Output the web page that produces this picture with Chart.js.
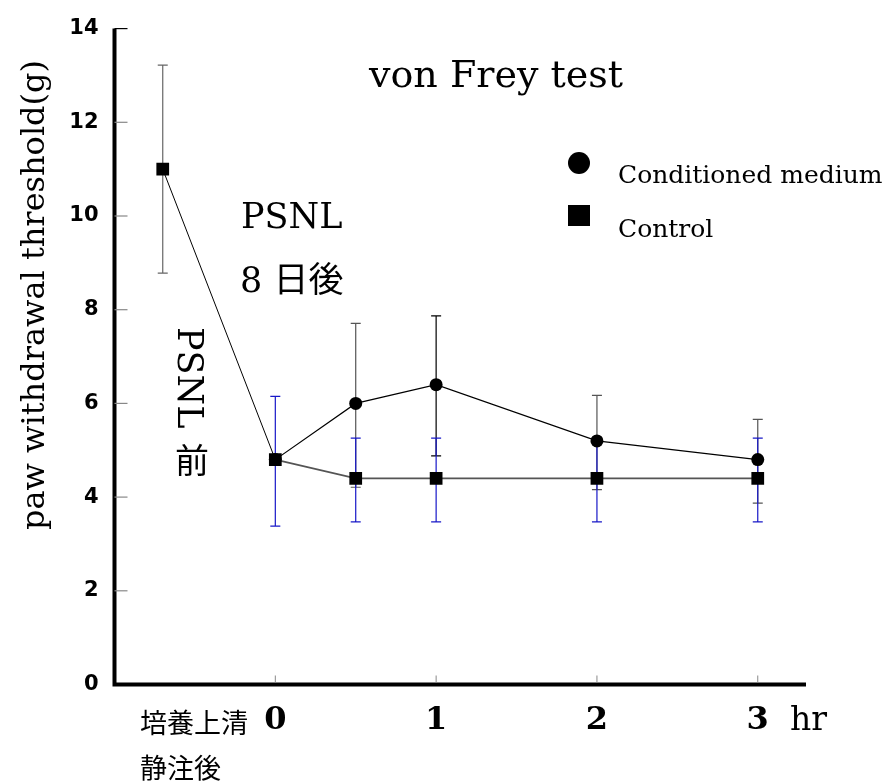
<!DOCTYPE html>
<html><head><meta charset="utf-8">
<script src="https://cdn.jsdelivr.net/npm/chart.js@4/dist/chart.umd.min.js"></script>
<style>html,body{margin:0;padding:0;background:#fff;}</style>
</head><body>
<canvas id="c" width="889" height="784"></canvas>
<script>
// ---- data ----
const xTickValues = [0, 1, 2, 3];
const xTickLabels = ['0', '1', '2', '3'];
const yTickValues = [0, 2, 4, 6, 8, 10, 12, 14];
const controlX    = [-0.7, 0, 0.5, 1, 2, 3];
const controlY    = [11.0, 4.8, 4.4, 4.4, 4.4, 4.4];
const controlLow  = [8.78, 3.38, 3.47, 3.47, 3.47, 3.47];
const controlHigh = [13.22, 6.15, 5.26, 5.26, 5.26, 5.26];
const cmX    = [0, 0.5, 1, 2, 3];
const cmY    = [4.8, 6.0, 6.4, 5.2, 4.8];
const cmLow  = [null, 4.21, 4.88, 4.16, 3.87];
const cmHigh = [null, 7.71, 7.87, 6.17, 5.66];
const seriesNames = ['Conditioned medium', 'Control'];
const titleText = 'von Frey test';
const yTitle = 'paw withdrawal threshold(g)';
const xUnit = 'hr';
const preLabel = ['培養上清', '静注後'];
const notes = ['PSNL', '8 日後', 'PSNL 前'];

const SERIF = '"DejaVu Serif", "Noto Sans CJK JP", serif';
const CJK = '"Noto Sans CJK JP", sans-serif';

const errorBars = {
  id: 'errorBars',
  beforeDatasetsDraw(chart) {
    const {ctx, scales: {x, y}} = chart;
    const draw = (xs, lo, hi, colorFn) => {
      xs.forEach((xv, i) => {
        if (lo[i] == null) return;
        const px = x.getPixelForValue(xv);
        const p1 = y.getPixelForValue(lo[i]);
        const p2 = y.getPixelForValue(hi[i]);
        ctx.save();
        ctx.strokeStyle = colorFn(i);
        ctx.lineWidth = 1.2;
        ctx.beginPath();
        ctx.moveTo(px, p1); ctx.lineTo(px, p2);
        ctx.moveTo(px - 5, p1); ctx.lineTo(px + 5, p1);
        ctx.moveTo(px - 5, p2); ctx.lineTo(px + 5, p2);
        ctx.stroke();
        ctx.restore();
      });
    };
    draw(cmX, cmLow, cmHigh, i => (i === 2 ? '#000' : '#555'));
    draw(controlX, controlLow, controlHigh, i => (i === 0 ? '#666' : '#1818c8'));
  }
};

const decor = {
  id: 'decor',
  afterDraw(chart) {
    const {ctx, chartArea: a, scales: {x, y}} = chart;
    ctx.save();
    // axis lines
    ctx.strokeStyle = '#000';
    ctx.lineWidth = 4;
    ctx.beginPath();
    ctx.moveTo(a.left, a.top);
    ctx.lineTo(a.left, a.bottom);
    ctx.lineTo(a.right, a.bottom);
    ctx.stroke();
    // y ticks (inward)
    yTickValues.forEach(v => {
      if (v === 0) return;
      const py = y.getPixelForValue(v);
      ctx.strokeStyle = v === 14 ? '#000' : '#888';
      ctx.lineWidth = 1.2;
      ctx.beginPath();
      ctx.moveTo(a.left, py); ctx.lineTo(a.left + 13, py);
      ctx.stroke();
    });
    // x ticks (inward)
    xTickValues.forEach(v => {
      const px = x.getPixelForValue(v);
      ctx.strokeStyle = '#888';
      ctx.lineWidth = 1;
      ctx.beginPath();
      ctx.moveTo(px, a.bottom - 2); ctx.lineTo(px, a.bottom - 9);
      ctx.stroke();
    });
    ctx.fillStyle = '#000';
    // title
    ctx.font = '38px ' + SERIF;
    ctx.textAlign = 'center';
    ctx.textBaseline = 'alphabetic';
    ctx.fillText(titleText, 496, 87);
    // y title
    ctx.save();
    ctx.translate(44, 295);
    ctx.rotate(-Math.PI / 2);
    ctx.font = '32px ' + SERIF;
    ctx.fillText(yTitle, 0, 0);
    ctx.restore();
    // notes
    ctx.textAlign = 'left';
    ctx.font = '35px ' + SERIF;
    ctx.fillText(notes[0], 241, 228);
    ctx.fillText(notes[1], 240, 292);
    const parts = notes[2].split(' ');
    ctx.save();
    ctx.translate(178, 327);
    ctx.rotate(Math.PI / 2);
    ctx.fillText(parts[0], 0, 0);
    ctx.restore();
    ctx.font = '34px ' + CJK;
    ctx.textAlign = 'center';
    ctx.textBaseline = 'middle';
    ctx.fillText(parts[1], 192, 460);
    // legend
    ctx.textAlign = 'left';
    ctx.textBaseline = 'alphabetic';
    ctx.beginPath();
    ctx.arc(579, 163, 11, 0, Math.PI * 2);
    ctx.fill();
    ctx.fillRect(568, 205, 22, 21);
    ctx.font = '25px ' + SERIF;
    ctx.fillText(seriesNames[0], 618, 183);
    ctx.fillText(seriesNames[1], 618, 237);
    // x extra labels
    ctx.font = '33px ' + SERIF;
    ctx.fillText(xUnit, 790, 730);
    ctx.font = '27px ' + CJK;
    ctx.textBaseline = 'middle';
    ctx.fillText(preLabel[0], 140, 723);
    ctx.fillText(preLabel[1], 140, 768);
    ctx.restore();
  }
};

new Chart(document.getElementById('c'), {
  type: 'scatter',
  data: {
    datasets: [
      {
        label: seriesNames[1],
        data: controlX.map((v, i) => ({x: v, y: controlY[i]})),
        showLine: true,
        order: 0,
        pointStyle: 'rect',
        pointRadius: 9,
        pointBackgroundColor: '#000',
        pointBorderColor: '#000',
        pointBorderWidth: 0,
        borderColor: '#000',
        borderWidth: 1,
        segment: {
          borderColor: c => (c.p0DataIndex === 0 ? '#000' : '#555'),
          borderWidth: c => (c.p0DataIndex === 0 ? 1 : 1.6)
        }
      },
      {
        label: seriesNames[0],
        data: cmX.map((v, i) => ({x: v, y: cmY[i]})),
        showLine: true,
        order: 1,
        pointStyle: 'circle',
        pointRadius: 6.5,
        pointBackgroundColor: '#000',
        pointBorderColor: '#000',
        pointBorderWidth: 0,
        borderColor: '#000',
        borderWidth: 1.2
      }
    ]
  },
  options: {
    responsive: false,
    devicePixelRatio: 1,
    animation: false,
    layout: {padding: {left: 0, right: 83, top: 28.5, bottom: 0}},
    plugins: {legend: {display: false}, tooltip: {enabled: false}},
    scales: {
      x: {
        type: 'linear', min: -1, max: 3.3,
        afterBuildTicks: s => { s.ticks = xTickValues.map(v => ({value: v})); },
        afterFit: s => { s.height = 99.5; },
        grid: {display: false, drawTicks: false},
        border: {display: false},
        ticks: {
          autoSkip: false, maxRotation: 0, padding: 17, color: '#000',
          font: {family: SERIF, size: 32, weight: 'bold'},
          callback: v => { const k = xTickValues.indexOf(v); return k >= 0 ? xTickLabels[k] : ''; }
        }
      },
      y: {
        type: 'linear', min: 0, max: 14,
        afterBuildTicks: s => { s.ticks = yTickValues.map(v => ({value: v})); },
        afterFit: s => { s.width = 114.5; },
        grid: {display: false, drawTicks: false},
        border: {display: false},
        ticks: {
          padding: 16, color: '#000',
          font: {family: '"DejaVu Sans", sans-serif', size: 21, weight: 'bold'}
        }
      }
    }
  },
  plugins: [errorBars, decor]
});
</script>
</body></html>
